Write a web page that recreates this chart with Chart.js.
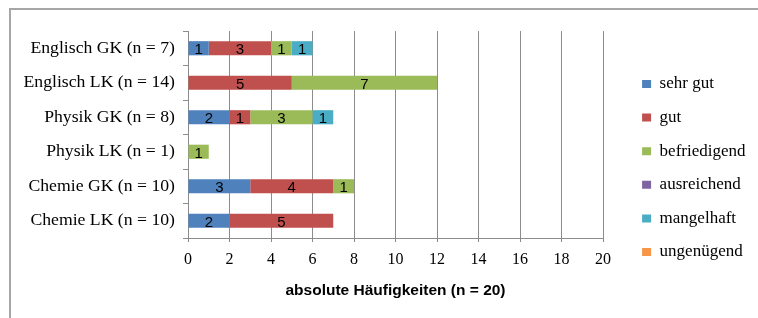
<!DOCTYPE html>
<html>
<head>
<meta charset="utf-8">
<script src="https://cdn.jsdelivr.net/npm/chart.js@4/dist/chart.umd.min.js"></script>
<style>
  html, body { margin: 0; padding: 0; background: #fff; overflow: hidden; }
  #wrap { position: relative; width: 758px; height: 318px; }
  #frame { position: absolute; left: 9px; top: 8px; width: 900px; height: 400px; border: 2px solid #a6a6a6; box-sizing: border-box; }
  #box { position: absolute; left: 0; top: 0; width: 758px; height: 318px; }
</style>
</head>
<body>
<div id="wrap">
  <div id="frame"></div>
  <div id="box"><canvas id="gradesChart"></canvas></div>
</div>
<script>
// Kurse und Notenverteilung
const courses = ['Englisch GK (n = 7)', 'Englisch LK (n = 14)', 'Physik GK (n = 8)', 'Physik LK (n = 1)', 'Chemie GK (n = 10)', 'Chemie LK (n = 10)'];
const sehrGut      = [1, 0, 2, 0, 3, 2];
const gut          = [3, 5, 1, 0, 4, 5];
const befriedigend = [1, 7, 3, 1, 1, 0];
const ausreichend  = [0, 0, 0, 0, 0, 0];
const mangelhaft   = [1, 0, 1, 0, 0, 0];
const ungenuegend  = [0, 0, 0, 0, 0, 0];
const xTicks = [0, 2, 4, 6, 8, 10, 12, 14, 16, 18, 20];

const gridGray = '#8c8c8c';

// Zahlen mittig in die Balken schreiben
const barValues = {
    id: 'barValues',
    afterDatasetsDraw(chart) {
        const ctx = chart.ctx;
        ctx.save();
        ctx.font = '15px "Liberation Sans", Arial, sans-serif';
        ctx.fillStyle = '#000';
        ctx.textAlign = 'center';
        ctx.textBaseline = 'middle';
        chart.data.datasets.forEach((ds, i) => {
            const meta = chart.getDatasetMeta(i);
            meta.data.forEach((bar, j) => {
                const v = ds.data[j];
                if (!v) return;
                const p = bar.getCenterPoint();
                ctx.fillText(String(v), p.x, p.y + 2);
            });
        });
        ctx.restore();
    }
};

function makeSet(label, data, color) {
    return {
        label: label,
        data: data,
        backgroundColor: color,
        borderColor: color,
        borderWidth: 0,
        barPercentage: 0.41,
        categoryPercentage: 1.0
    };
}

const ctx = document.getElementById('gradesChart').getContext('2d');
new Chart(ctx, {
    type: 'bar',
    data: {
        labels: courses,
        datasets: [
            makeSet('sehr gut', sehrGut, '#4f81bd'),
            makeSet('gut', gut, '#c0504d'),
            makeSet('befriedigend', befriedigend, '#9bbb59'),
            makeSet('ausreichend', ausreichend, '#8064a2'),
            makeSet('mangelhaft', mangelhaft, '#4bacc6'),
            makeSet('ungenügend', ungenuegend, '#f79646')
        ]
    },
    options: {
        indexAxis: 'y',
        responsive: true,
        maintainAspectRatio: false,
        animation: false,
        layout: { padding: { top: 31, bottom: 13, left: 0, right: 0 } },
        scales: {
            x: {
                stacked: true,
                min: 0,
                max: 20,
                afterBuildTicks: scale => { scale.ticks = xTicks.map(v => ({ value: v })); },
                afterFit: scale => { scale.height = 67; scale.paddingRight = 155; },
                grid: { color: gridGray, lineWidth: 1, tickLength: 4 },
                border: { color: gridGray },
                ticks: {
                    color: '#000',
                    padding: 8,
                    font: { family: '"Liberation Serif", "Times New Roman", serif', size: 16 }
                },
                title: {
                    display: true,
                    text: 'absolute Häufigkeiten (n = 20)',
                    color: '#000',
                    padding: { top: 0, bottom: 5 },
                    font: { family: '"Liberation Sans", Arial, sans-serif', size: 15.5, weight: 'bold', lineHeight: 1.2 }
                }
            },
            y: {
                stacked: true,
                afterFit: scale => { scale.width = 188; },
                grid: { display: true, drawOnChartArea: false, color: gridGray, tickLength: 5, offset: true },
                border: { color: gridGray },
                ticks: {
                    color: '#000',
                    padding: 8,
                    font: { family: '"Liberation Serif", "Times New Roman", serif', size: 17.7 }
                }
            },
            // leerer Abstand zwischen Diagramm und Legende
            gap: {
                type: 'linear',
                axis: 'y',
                position: 'right',
                afterFit: scale => { scale.width = 22.5; },
                grid: { display: false },
                border: { display: false },
                ticks: { display: false }
            }
        },
        plugins: {
            legend: {
                display: true,
                position: 'right',
                align: 'center',
                labels: {
                    color: '#000',
                    boxWidth: 9,
                    boxHeight: 8,
                    padding: 16.6,
                    font: { family: '"Liberation Serif", "Times New Roman", serif', size: 17 }
                }
            },
            tooltip: { enabled: false }
        }
    },
    plugins: [barValues]
});
</script>
</body>
</html>
